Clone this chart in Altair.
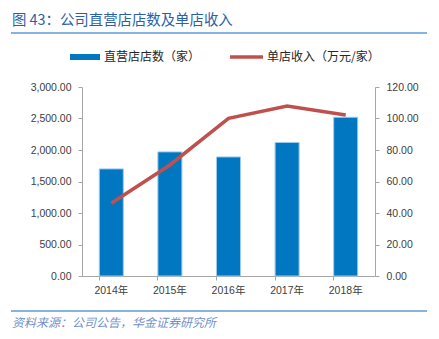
import altair as alt
import pandas as pd

years = ["2014年", "2015年", "2016年", "2017年", "2018年"]
stores = [1700, 1970, 1890, 2120, 2520]
revenue = [46.2, 70.5, 100.1, 107.9, 102.2]

title_text = "图 43：公司直营店店数及单店收入"
source_text = "资料来源：公司公告，华金证券研究所"
legend_bar = "直营店店数（家）"
legend_line = "单店收入（万元/家）"

df = pd.DataFrame({"year": years, "stores": stores, "revenue": revenue})

FONT = "Liberation Sans, Noto Sans CJK SC"
CJK = "Noto Sans CJK SC"
AXC = "#a6a6a6"
LBL = "#404040"

# plot area: x 82..375, y 87..276
W, H = 293, 189
L, T = 82, 87

xenc = alt.X("year:N", sort=years, title=None,
             scale=alt.Scale(paddingInner=0.59, paddingOuter=0.295),
             axis=alt.Axis(labelAngle=0, labelFont=FONT, labelFontSize=10.5,
                           labelColor=LBL, domainColor=AXC, tickColor=AXC,
                           tickSize=4, labelPadding=5, bandPosition=0))

base = alt.Chart(df)

bars = base.mark_bar(color="#0077c0", stroke="#9ccbee", strokeWidth=1).encode(
    x=xenc,
    y=alt.Y("stores:Q", title=None,
            scale=alt.Scale(domain=[0, 3000]),
            axis=alt.Axis(values=[0, 500, 1000, 1500, 2000, 2500, 3000],
                          format=",.2f", labelFont=FONT, labelFontSize=10.5,
                          labelColor=LBL, domainColor=AXC, tickColor=AXC,
                          tickSize=4, labelPadding=7, grid=False)),
)

line = base.mark_line(color="#c0504d", strokeWidth=3.5).encode(
    x=alt.X("year:N", sort=years),
    y=alt.Y("revenue:Q", title=None,
            scale=alt.Scale(domain=[0, 120]),
            axis=alt.Axis(orient="right", values=[0, 20, 40, 60, 80, 100, 120],
                          format=".2f", labelFont=FONT, labelFontSize=10.5,
                          labelColor=LBL, domainColor=AXC, tickColor=AXC,
                          tickSize=4, labelPadding=7, grid=False)),
)

deco_df = pd.DataFrame({"d": [0]})
deco = alt.Chart(deco_df)

title = deco.mark_text(align="left", baseline="middle", font=CJK, fontSize=14.4,
                       color="#2b5fa8", text=title_text).encode(
    x=alt.value(12 - L), y=alt.value(21 - T))
title_rule = deco.mark_rule(color="#5b9bd5", strokeWidth=1.5).encode(
    x=alt.value(11 - L), x2=alt.value(427 - L), y=alt.value(33 - T))

leg_rect = deco.mark_rule(color="#0077c0", strokeWidth=6).encode(
    x=alt.value(70 - L), x2=alt.value(100 - L), y=alt.value(57 - T))
leg_t1 = deco.mark_text(align="left", baseline="middle", font=CJK, fontSize=12,
                        color="#262626", text=legend_bar).encode(
    x=alt.value(104 - L), y=alt.value(57 - T))
leg_line = deco.mark_rule(color="#c0504d", strokeWidth=3.5).encode(
    x=alt.value(230 - L), x2=alt.value(263 - L), y=alt.value(57 - T))
leg_t2 = deco.mark_text(align="left", baseline="middle", font=CJK, fontSize=12,
                        color="#262626", text=legend_line).encode(
    x=alt.value(267 - L), y=alt.value(57 - T))

foot_rule = deco.mark_rule(color="#5b9bd5", strokeWidth=1.5).encode(
    x=alt.value(11 - L), x2=alt.value(427 - L), y=alt.value(311 - T))
foot = deco.mark_text(align="left", baseline="middle", font=CJK, fontSize=12,
                      fontStyle="italic", color="#6f92cc", text=source_text).encode(
    x=alt.value(12 - L), y=alt.value(323 - T))

chart = alt.layer(bars, line).resolve_scale(y="independent")
chart = alt.layer(chart, title, title_rule, leg_rect, leg_t1, leg_line, leg_t2,
                  foot_rule, foot).properties(
    width=W, height=H,
    autosize=alt.AutoSizeParams(type="none"),
    padding={"left": L, "top": T, "right": 439 - L - W, "bottom": 339 - T - H},
    background="white",
).configure_view(stroke=None)

chart.save("out.html", embed_options={"renderer": "svg", "actions": False})
